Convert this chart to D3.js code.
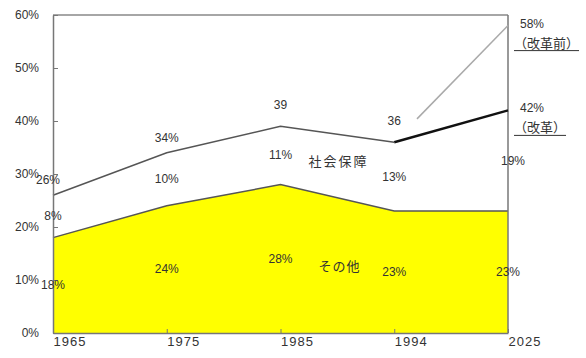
<!DOCTYPE html>
<html>
<head>
<meta charset="utf-8">
<script src="https://cdn.jsdelivr.net/npm/d3@7"></script>
<style>
  body { margin: 0; background: #fff; }
  svg { display: block; }
  .num { font-family: "Liberation Sans", Arial, sans-serif; font-size: 12px; fill: #333; }
  .jp { font-family: "Noto Sans CJK JP", sans-serif; font-size: 13px; fill: #333; }
</style>
</head>
<body>
<svg id="chart"></svg>
<script>
// データ（％）
const years = ["1965", "1975", "1985", "1994", "2025"];
const other = [18, 24, 28, 23, 23];          // その他
const social = [8, 10, 11, 13, 19];          // 社会保障
const topLabels = ["26%", "34%", "39", "36"];
const beforeReform = 58;                      // 2025年（改革前）
const yTicks = [0, 10, 20, 30, 40, 50, 60];

const width = 586, height = 358;
const margin = { top: 15, right: 78, bottom: 25, left: 53 };

const svg = d3.select("#chart").attr("width", width).attr("height", height);

const x = d3.scalePoint().domain(years).range([margin.left, width - margin.right]);
const y = d3.scaleLinear().domain([0, 60]).range([height - margin.bottom, margin.top]);

const total = years.map((d, i) => other[i] + social[i]);
const rows = years.map((d, i) => ({ year: d, other: other[i], social: social[i], total: total[i] }));

// その他（黄色の面）
svg.append("path")
  .datum(rows)
  .attr("fill", "#ffff00")
  .attr("stroke", "none")
  .attr("d", d3.area().x(d => x(d.year)).y0(y(0)).y1(d => y(d.other)));

svg.append("path")
  .datum(rows)
  .attr("fill", "none")
  .attr("stroke", "#555")
  .attr("stroke-width", 1.5)
  .attr("d", d3.line().x(d => x(d.year)).y(d => y(d.other)));

// 枠（上・右）
svg.append("line")
  .attr("x1", x(years[0])).attr("x2", x(years[4]))
  .attr("y1", y(60)).attr("y2", y(60))
  .attr("stroke", "#888").attr("stroke-width", 1.5);
svg.append("line")
  .attr("x1", x(years[4])).attr("x2", x(years[4]))
  .attr("y1", y(60)).attr("y2", y(0))
  .attr("stroke", "#777").attr("stroke-width", 1.5);

// 合計線 1965-1994
svg.append("path")
  .datum(rows.slice(0, 4))
  .attr("fill", "none")
  .attr("stroke", "#555")
  .attr("stroke-width", 1.5)
  .attr("d", d3.line().x(d => x(d.year)).y(d => y(d.total)));

// 改革前 (1994 → 2025, 58%)
const p0 = [x("1994"), y(total[3])];
const p1 = [x("2025"), y(beforeReform)];
const pStart = d3.interpolate(p0, p1)(0.2);
svg.append("line")
  .attr("x1", pStart[0]).attr("y1", pStart[1])
  .attr("x2", p1[0]).attr("y2", p1[1])
  .attr("stroke", "#aaa").attr("stroke-width", 1.5);

// 改革 (1994 → 2025, 42%)
svg.append("path")
  .datum(rows.slice(3))
  .attr("fill", "none")
  .attr("stroke", "#111")
  .attr("stroke-width", 2.5)
  .attr("d", d3.line().x(d => x(d.year)).y(d => y(d.total)));

// 軸
const yAxis = svg.append("g")
  .attr("transform", `translate(${margin.left},0)`)
  .call(d3.axisLeft(y).tickValues(yTicks).tickFormat(d => d + "%").tickSizeInner(-5).tickSizeOuter(0).tickPadding(14));
const xAxis = svg.append("g")
  .attr("transform", `translate(0,${y(0)})`)
  .call(d3.axisBottom(x).tickSizeInner(-4).tickSizeOuter(0).tickPadding(4));

[yAxis, xAxis].forEach(g => {
  g.select(".domain").attr("stroke", "#777").attr("stroke-width", 1.5);
  g.selectAll(".tick line").attr("stroke", "#777");
  g.selectAll("text").attr("class", "num").attr("fill", "#444");
});
xAxis.selectAll("text").attr("text-anchor", "start").style("font-size", "13px").attr("letter-spacing", 1);

// ラベル
svg.append("g").selectAll("text")
  .data(topLabels)
  .join("text")
  .attr("class", "num")
  .attr("text-anchor", "middle")
  .attr("x", (d, i) => x(years[i]) - (i === 0 ? 5 : 0))
  .attr("y", (d, i) => y(total[i]) - (i >= 2 ? 17 : 11))
  .text(d => d);

svg.append("g").selectAll("text")
  .data(rows)
  .join("text")
  .attr("class", "num")
  .attr("text-anchor", "middle")
  .attr("x", d => x(d.year) + (d.year === "2025" ? 5 : 0))
  .attr("y", d => y(d.other + d.social / 2) + 4)
  .text(d => d.social + "%");

svg.append("g").selectAll("text")
  .data(rows)
  .join("text")
  .attr("class", "num")
  .attr("text-anchor", "middle")
  .attr("x", d => x(d.year))
  .attr("y", d => y(d.other / 2) + 4)
  .text(d => d.other + "%");

svg.append("text").attr("class", "jp")
  .attr("x", x("1985") + 28).attr("y", y(32.5) + 5)
  .attr("letter-spacing", 2)
  .text("社会保障");
svg.append("text").attr("class", "jp")
  .attr("x", x("1985") + 38).attr("y", y(12.7) + 5)
  .attr("letter-spacing", 1)
  .text("その他");

// 右側の注記
const notes = [
  { value: beforeReform, pct: beforeReform + "%", label: "（改革前）" },
  { value: total[4], pct: total[4] + "%", label: "（改革）" }
];
notes.forEach(n => {
  const yy = y(n.value);
  svg.append("text").attr("class", "num")
    .attr("x", x("2025") + 12).attr("y", yy + 2)
    .text(n.pct);
  const t = svg.append("text").attr("class", "jp")
    .attr("x", x("2025") + 6).attr("y", yy + 22)
    .text(n.label);
  const w = t.node().getComputedTextLength();
  svg.append("line")
    .attr("x1", x("2025") + 6).attr("x2", x("2025") + 6 + w)
    .attr("y1", yy + 25).attr("y2", yy + 25)
    .attr("stroke", "#333").attr("stroke-width", 1);
});
</script>
</body>
</html>
